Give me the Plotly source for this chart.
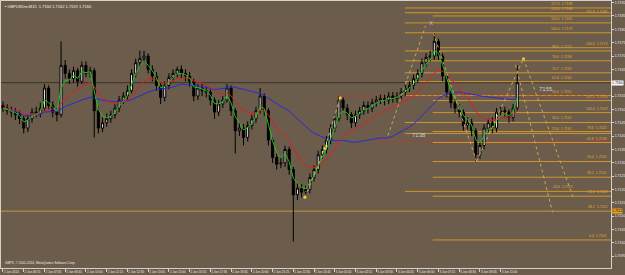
import plotly.graph_objects as go
import pandas as pd

title_text = "\u25aa GBPUSDm,M15  1.7160 1.7162 1.7159 1.7160"
copyright_text = "GBPX, \u00a9 2001-2014, MetaQuotes Software Corp."

opens = [1.71515,1.71505,1.71495,1.71490,1.71480,1.71465,1.71430,1.71465,1.71490,1.71485,
1.71505,1.71580,1.71515,1.71490,1.71480,1.71665,1.71635,1.71615,1.71645,1.71605,
1.71665,1.71635,1.71645,1.71495,1.71430,1.71450,1.71465,1.71480,1.71505,1.71535,
1.71550,1.71570,1.71635,1.71675,1.71690,1.71700,1.71650,1.71625,1.71590,1.71545,
1.71590,1.71620,1.71635,1.71650,1.71635,1.71625,1.71605,1.71550,1.71580,1.71570,
1.71565,1.71535,1.71490,1.71520,1.71535,1.71580,1.71495,1.71420,1.71430,1.71395,
1.71440,1.71465,1.71495,1.71550,1.71495,1.71385,1.71320,1.71295,1.71300,1.71350,
1.71275,1.71180,1.71205,1.71190,1.71200,1.71245,1.71275,1.71330,1.71350,1.71385,
1.71430,1.71465,1.71535,1.71505,1.71480,1.71450,1.71480,1.71495,1.71515,1.71505,
1.71525,1.71535,1.71540,1.71535,1.71550,1.71540,1.71550,1.71565,1.71580,1.71590,
1.71615,1.71635,1.71675,1.71695,1.71700,1.71755,1.71700,1.71625,1.71565,1.71525,
1.71505,1.71490,1.71440,1.71450,1.71420,1.71330,1.71365,1.71430,1.71450,1.71430,
1.71490,1.71495,1.71490,1.71470,1.71505]

highs = [1.71530,1.71520,1.71510,1.71505,1.71495,1.71475,1.71480,1.71505,1.71510,1.71525,
1.71595,1.71590,1.71530,1.71505,1.71755,1.71685,1.71650,1.71660,1.71655,1.71680,
1.71680,1.71660,1.71655,1.71510,1.71470,1.71485,1.71495,1.71520,1.71550,1.71565,
1.71590,1.71650,1.71690,1.71720,1.71720,1.71710,1.71665,1.71640,1.71600,1.71605,
1.71635,1.71650,1.71660,1.71665,1.71650,1.71640,1.71615,1.71595,1.71595,1.71585,
1.71575,1.71545,1.71535,1.71550,1.71595,1.71590,1.71505,1.71450,1.71445,1.71455,
1.71480,1.71510,1.71580,1.71560,1.71505,1.71395,1.71335,1.71320,1.71365,1.71360,
1.71285,1.71225,1.71220,1.71215,1.71260,1.71290,1.71345,1.71365,1.71400,1.71445,
1.71480,1.71550,1.71545,1.71520,1.71490,1.71495,1.71510,1.71530,1.71530,1.71540,
1.71550,1.71555,1.71555,1.71565,1.71565,1.71565,1.71580,1.71595,1.71605,1.71630,
1.71650,1.71690,1.71710,1.71720,1.71785,1.71765,1.71710,1.71635,1.71575,1.71540,
1.71520,1.71500,1.71470,1.71465,1.71430,1.71380,1.71445,1.71465,1.71470,1.71505,
1.71510,1.71510,1.71500,1.71520,1.71665]

lows = [1.71490,1.71480,1.71470,1.71460,1.71445,1.71410,1.71415,1.71450,1.71470,1.71470,
1.71495,1.71500,1.71470,1.71455,1.71470,1.71615,1.71595,1.71600,1.71585,1.71595,
1.71620,1.71620,1.71395,1.71410,1.71415,1.71435,1.71450,1.71465,1.71490,1.71520,
1.71535,1.71560,1.71620,1.71660,1.71675,1.71635,1.71605,1.71570,1.71520,1.71530,
1.71575,1.71605,1.71620,1.71615,1.71605,1.71585,1.71530,1.71535,1.71550,1.71545,
1.71515,1.71465,1.71475,1.71505,1.71525,1.71475,1.71335,1.71400,1.71365,1.71380,
1.71425,1.71450,1.71485,1.71475,1.71365,1.71300,1.71275,1.71280,1.71285,1.71255,
1.71005,1.71160,1.71170,1.71175,1.71185,1.71230,1.71260,1.71315,1.71335,1.71370,
1.71415,1.71455,1.71490,1.71460,1.71430,1.71435,1.71465,1.71480,1.71485,1.71490,
1.71510,1.71520,1.71515,1.71520,1.71525,1.71525,1.71535,1.71550,1.71565,1.71575,
1.71600,1.71620,1.71660,1.71680,1.71685,1.71685,1.71605,1.71545,1.71505,1.71485,
1.71470,1.71420,1.71425,1.71400,1.71305,1.71315,1.71350,1.71415,1.71410,1.71415,
1.71475,1.71470,1.71450,1.71455,1.71495]

closes = [1.71505,1.71495,1.71490,1.71480,1.71465,1.71430,1.71465,1.71490,1.71485,1.71505,
1.71580,1.71515,1.71490,1.71480,1.71665,1.71635,1.71615,1.71645,1.71605,1.71665,
1.71635,1.71645,1.71495,1.71430,1.71450,1.71465,1.71480,1.71505,1.71535,1.71550,
1.71570,1.71635,1.71675,1.71690,1.71700,1.71650,1.71625,1.71590,1.71545,1.71590,
1.71620,1.71635,1.71650,1.71635,1.71625,1.71605,1.71550,1.71580,1.71570,1.71565,
1.71535,1.71490,1.71520,1.71535,1.71580,1.71495,1.71420,1.71430,1.71395,1.71440,
1.71465,1.71495,1.71550,1.71495,1.71385,1.71320,1.71295,1.71300,1.71350,1.71275,
1.71180,1.71205,1.71190,1.71200,1.71245,1.71275,1.71330,1.71350,1.71385,1.71430,
1.71465,1.71535,1.71505,1.71480,1.71450,1.71480,1.71495,1.71515,1.71505,1.71525,
1.71535,1.71540,1.71535,1.71550,1.71540,1.71550,1.71565,1.71580,1.71590,1.71615,
1.71635,1.71675,1.71695,1.71700,1.71755,1.71700,1.71625,1.71565,1.71525,1.71505,
1.71490,1.71440,1.71450,1.71420,1.71330,1.71365,1.71430,1.71450,1.71430,1.71490,
1.71495,1.71490,1.71470,1.71505,1.71600]

x_tick_bars = [0,5,10,15,20,25,30,35,40,45,50,55,60,65,70,75,80,85,90,95,100,105,110,115,120]
x_tick_labels = ["2 Jun 2014","2 Jun 06:15","2 Jun 07:30","2 Jun 08:45","2 Jun 10:00",
                 "2 Jun 11:15","2 Jun 12:30","2 Jun 13:45","2 Jun 15:00","2 Jun 16:15",
                 "2 Jun 17:30","2 Jun 18:45","2 Jun 20:00","2 Jun 21:15","2 Jun 22:30",
                 "2 Jun 23:45","3 Jun 01:00","3 Jun 02:15","3 Jun 03:30","3 Jun 04:45",
                 "3 Jun 06:00","3 Jun 07:15","3 Jun 08:30","3 Jun 09:45","3 Jun 11:00"]

y_ticks = [1.7095,1.7100,1.7105,1.7110,1.7115,1.7120,1.7125,1.7130,1.7135,1.7140,
           1.7145,1.7150,1.7155,1.7160,1.7165,1.7170,1.7175,1.7180,1.7185,1.7190]

bid_price = 1.7160
base_line_price = 1.71119

fib_a_prices = [1.71880,1.71862,1.71824,1.71787,1.71719,1.71682,1.71637,1.71604,1.71552,1.71451,1.71410,1.71193]
fib_a_ratios = ["127.2","123.6","110.0","100.0","88.6","78.6","70.7","61.8","50.0","30.0","23.6","-23.6"]
fib_b_prices = [1.71850,1.71731,1.71533,1.71488,1.71417,1.71376,1.71305,1.71246,1.71175,1.71011]
fib_b_ratios = ["261.8","200.0","127.2","100.0","78.6","61.8","50.0","38.2","23.6","0.0"]

red_level_prices = [1.7155, 1.7138]
red_level_start = [80, 90]
red_level_texts = ["7155", "7138"]
red_text_bars = [131.0, 100.2]
red_text_prices = [1.71578, 1.71406]

pattern_bars = [[92.8, 101.9], [103.8, 114.2], [114.2, 125.5], [123.6, 132.5], [125.5, 137.7], [72.8, 77.6, 81.3]]
pattern_prices = [[1.71402, 1.71813], [1.71785, 1.71305], [1.71305, 1.71690], [1.71667, 1.71115],
                  [1.71690, 1.71160], [1.71171, 1.71354, 1.71544]]
dot_bars = [72.8, 77.6, 81.3, 125.5]
dot_prices = [1.71171, 1.71354, 1.71544, 1.71690]

BG = "#6b5c4c"
AX = "#d8d0c6"
XMIN, XMAX = -0.48, 146.6
YMIN, YMAX = 1.70906, 1.71906
FIB = "#cf972a"
FONT = "Liberation Sans"

n = len(closes)
bars = list(range(n))
cs = pd.Series(closes)
ma_green = cs.ewm(span=3, adjust=False).mean()
ma_red = cs.ewm(span=12, adjust=False).mean()
ma_blue = cs.rolling(30, min_periods=1).mean()

fig = go.Figure()

shapes = []
shapes.append(dict(type="line", xref="x", yref="y", x0=XMIN, x1=XMAX, y0=base_line_price, y1=base_line_price,
                   line=dict(color="#c49448", width=1), layer="below"))
shapes.append(dict(type="line", xref="x", yref="y", x0=XMIN, x1=XMAX, y0=bid_price, y1=bid_price,
                   line=dict(color="#3c3228", width=1), layer="below"))
for p in fib_a_prices:
    shapes.append(dict(type="line", xref="x", yref="y", x0=96.9, x1=XMAX, y0=p, y1=p,
                       line=dict(color=FIB, width=1), layer="below"))
for p in fib_b_prices:
    shapes.append(dict(type="line", xref="x", yref="y", x0=103.6, x1=XMAX, y0=p, y1=p,
                       line=dict(color=FIB, width=1), layer="below"))
for p, s in zip(red_level_prices, red_level_start):
    shapes.append(dict(type="line", xref="x", yref="y", x0=s, x1=XMAX, y0=p, y1=p,
                       line=dict(color="#d83020", width=1, dash="dot"), layer="below"))

fig.add_trace(go.Candlestick(
    x=bars, open=opens, high=highs, low=lows, close=closes,
    increasing=dict(line=dict(color="#000000", width=1), fillcolor="#e6e6e6"),
    decreasing=dict(line=dict(color="#000000", width=1), fillcolor="#000000"),
    whiskerwidth=0, hoverinfo="skip", showlegend=False))

fig.add_trace(go.Scatter(x=bars, y=ma_blue, mode="lines", line=dict(color="#2a2ad8", width=1), showlegend=False, hoverinfo="skip"))
fig.add_trace(go.Scatter(x=bars, y=ma_red, mode="lines", line=dict(color="#e02020", width=1), showlegend=False, hoverinfo="skip"))
fig.add_trace(go.Scatter(x=bars, y=ma_green, mode="lines", line=dict(color="#20c020", width=1), showlegend=False, hoverinfo="skip"))

for bx, py in zip(pattern_bars, pattern_prices):
    fig.add_trace(go.Scatter(x=bx, y=py, mode="lines", line=dict(color="#c8aa58", width=1, dash="dot"),
                             showlegend=False, hoverinfo="skip"))
fig.add_trace(go.Scatter(x=dot_bars, y=dot_prices, mode="markers", marker=dict(color="#e8d040", size=3),
                         showlegend=False, hoverinfo="skip"))

ann = []
ann.append(dict(xref="paper", yref="paper", x=0.004, y=0.995, xanchor="left", yanchor="top",
                text=title_text, showarrow=False, font=dict(size=4, color="#f0f0f0", family=FONT)))
ann.append(dict(xref="paper", yref="paper", x=0.004, y=0.004, xanchor="left", yanchor="bottom",
                text=copyright_text, showarrow=False, font=dict(size=3.2, color="#ececec", family=FONT)))
for p, r in zip(fib_a_prices, fib_a_ratios):
    ann.append(dict(xref="x", yref="y", x=137.7, y=p, xanchor="right", yanchor="bottom",
                    text=f"{r}  {p:.4f}", showarrow=False, font=dict(size=3.5, color="#e0a830", family=FONT)))
for p, r in zip(fib_b_prices, fib_b_ratios):
    ann.append(dict(xref="x", yref="y", x=146.2, y=p, xanchor="right", yanchor="bottom",
                    text=f"{r}  {p:.4f}", showarrow=False, font=dict(size=3.5, color="#e0a830", family=FONT)))
ann.append(dict(xref="x", yref="y", x=146.2, y=base_line_price, xanchor="right", yanchor="bottom",
                text=f"-38.2  {base_line_price:.4f}", showarrow=False, font=dict(size=3.5, color="#e0a830", family=FONT)))
for t, bx, py in zip(red_level_texts, red_text_bars, red_text_prices):
    ann.append(dict(xref="x", yref="y", x=bx, y=py, text=t, showarrow=False,
                    font=dict(size=6, color="#d0d0d0", family=FONT)))
ann.append(dict(xref="x", yref="y", x=103.3, y=1.71824, text="X", showarrow=False,
                font=dict(size=6, color="#bdbdbd", family=FONT)))
ann.append(dict(xref="paper", yref="y", x=1.0, y=bid_price, xanchor="left", yanchor="middle",
                text=f"{bid_price:.4f}", showarrow=False, bgcolor="#ffffff", borderpad=0,
                font=dict(size=3.5, color="#000000", family=FONT)))
ann.append(dict(xref="paper", yref="y", x=1.0, y=base_line_price, xanchor="left", yanchor="middle",
                text=f"{base_line_price:.4f}", showarrow=False, bgcolor="#e8a020", borderpad=0,
                font=dict(size=3.5, color="#000000", family=FONT)))

y_tick_text = ["" if abs(v - bid_price) < 1e-9 else f"{v:.4f}" for v in y_ticks]

fig.update_layout(
    width=625, height=275, autosize=False,
    margin=dict(l=0, r=13, t=0, b=7),
    paper_bgcolor=BG, plot_bgcolor=BG,
    shapes=shapes, annotations=ann,
    xaxis=dict(range=[XMIN, XMAX], rangeslider=dict(visible=False), showgrid=False, zeroline=False,
               tickmode="array", tickvals=x_tick_bars, ticktext=x_tick_labels, tickangle=0,
               tickfont=dict(size=3, color="#ececec", family=FONT),
               ticks="outside", ticklen=3, tickcolor=AX, showline=True, linecolor=AX, linewidth=1,
               mirror=True, ticklabelposition="outside right"),
    yaxis=dict(range=[YMIN, YMAX], side="right", showgrid=False, zeroline=False,
               tickmode="array", tickvals=y_ticks, ticktext=y_tick_text,
               tickfont=dict(size=3.5, color="#ececec", family=FONT),
               ticks="outside", ticklen=2, tickcolor=AX, showline=True, linecolor=AX, linewidth=1,
               mirror=True),
    showlegend=False,
)

fig.write_html("out.html")
